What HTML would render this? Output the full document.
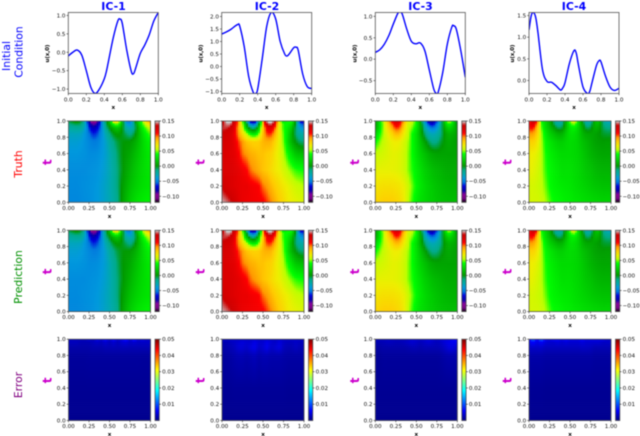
<!DOCTYPE html>
<html>
<head>
<meta charset="utf-8">
<title>Initial condition, truth, prediction and error panels</title>
<style>
html,body{margin:0;padding:0;background:#fff;}
svg{display:block;filter:blur(.4px);}
text{font-family:"DejaVu Sans","Liberation Sans",sans-serif;}
.row-title{font-size:10.8px;text-anchor:middle;}
.col-title{font-size:10.9px;font-weight:bold;fill:#0000ff;text-anchor:middle;}
</style>
</head>
<body>
<svg id="fig" xmlns="http://www.w3.org/2000/svg" width="640" height="436" viewBox="0 0 640 436">
<rect x="0" y="0" width="640" height="436" fill="#fff"/>
<text class="col-title" x="113.5" y="10">IC-1</text>
<text class="col-title" x="267" y="10">IC-2</text>
<text class="col-title" x="420.5" y="10">IC-3</text>
<text class="col-title" x="574" y="10">IC-4</text>
<text class="row-title" fill="#0000ff" transform="translate(10,56) rotate(-90)">Initial</text>
<text class="row-title" fill="#0000ff" transform="translate(22.5,52) rotate(-90)">Condition</text>
<text class="row-title" fill="#ff0000" transform="translate(22,164) rotate(-90)">Truth</text>
<text class="row-title" fill="#009000" transform="translate(22,277) rotate(-90)">Prediction</text>
<text class="row-title" fill="#800080" transform="translate(22,385) rotate(-90)">Error</text>
</svg>
<script>
// ---------- Chart data ----------
const curveX1 = [0,.05,.1,.15,.2,.25,.3,.35,.4,.425,.45,.5,.55,.575,.6,.65,.7,.725,.75,.8,.85,.9,.95,1];
const curveU1 = [-.1,0,.06,-.08,-.5,-.95,-1.12,-.98,-.72,-.5,-.2,.4,.85,.9,.78,.05,-.52,-.58,-.42,-.03,.2,.48,.85,1.08];
const curveX2 = [0,.05,.1,.15,.18,.2,.25,.3,.35,.375,.4,.45,.5,.55,.6,.65,.7,.725,.75,.8,.825,.85,.9,.95,1];
const curveU2 = [1.3,1.38,1.48,1.62,1.68,1.62,.8,-.4,-1.03,-1.08,-.9,.3,1.6,2.16,1.9,1,.5,.42,.5,.75,.77,.65,-.3,-.8,-.88];
const curveX3 = [0,.05,.1,.15,.2,.25,.275,.3,.35,.4,.45,.5,.55,.6,.65,.68,.7,.75,.8,.85,.87,.9,.95,1];
const curveU3 = [.16,.22,.35,.55,.82,1.07,1.1,1.05,.7,.42,.36,.38,.2,-.25,-.7,-.8,-.76,-.3,.35,.75,.78,.7,.2,-.42];
const curveX4 = [0,.025,.05,.075,.1,.15,.2,.25,.3,.35,.375,.4,.45,.5,.525,.55,.6,.65,.675,.7,.75,.78,.8,.85,.9,.95,1];
const curveU4 = [1.17,1.5,1.57,1.45,1.1,.25,-.02,-.04,-.12,-.22,-.17,-.05,.4,.69,.63,.35,-.15,-.3,-.25,-.05,.35,.46,.43,.1,-.15,-.23,-.18];
const curveYLim1 = [-1.12,1.08];
const curveYLim2 = [-1.08,2.16];
const curveYLim3 = [-.8,1.09];
const curveYLim4 = [-.3,1.57];
const curveYTicks1 = ["-1.0","-0.5","0.0","0.5","1.0"];
const curveYTicks2 = ["-1.0","-0.5","0.0","0.5","1.0","1.5","2.0"];
const curveYTicks3 = ["-0.5","0.0","0.5","1.0"];
const curveYTicks4 = ["0.0","0.5","1.0","1.5"];
const curveXTicks = ["0.0","0.2","0.4","0.6","0.8","1.0"];
const heatXTicks = ["0.00","0.25","0.50","0.75","1.00"];
const heatYTicks = ["0.0","0.2","0.4","0.6","0.8","1.0"];
const fieldBarTicks = ["-0.10","-0.05","0.00","0.05","0.10","0.15"];
const errorBarTicks = ["0.01","0.02","0.03","0.04","0.05"];
const fieldRange = [-.12,.15];
const errorRange = [0,.05];

// t coordinates of the rows in the field matrices, columns run over x = 0..1
const fieldT = [1,.97,.92,.85,.75,.6,.4,.2,0];
const errorT = [1,.97,.9,.8,.4,0];

const truthIC1 = [
[-.005,.002,.005,-.002,-.03,-.08,-.105,-.09,-.055,-.01,.02,.07,.075,.02,-.04,-.05,-.01,.025,.05,.08,.095],
[-.012,-.008,-.005,-.01,-.03,-.07,-.09,-.08,-.05,-.012,.012,.045,.05,.015,-.03,-.042,-.015,.02,.045,.065,.08],
[-.022,-.02,-.018,-.02,-.035,-.06,-.075,-.068,-.048,-.018,0,.014,.02,.005,-.02,-.03,-.015,.012,.035,.05,.06],
[-.03,-.03,-.03,-.032,-.04,-.052,-.062,-.058,-.045,-.028,-.012,0,.004,0,-.008,-.014,-.005,.012,.028,.04,.048],
[-.036,-.036,-.036,-.038,-.042,-.046,-.05,-.049,-.042,-.034,-.022,-.012,-.004,0,.002,.003,.008,.016,.025,.033,.038],
[-.04,-.04,-.04,-.041,-.042,-.044,-.044,-.043,-.04,-.035,-.027,-.018,-.008,0,.004,.008,.014,.02,.026,.031,.034],
[-.044,-.044,-.044,-.044,-.044,-.043,-.042,-.041,-.038,-.034,-.028,-.02,-.01,-.001,.006,.012,.018,.023,.027,.03,.032],
[-.045,-.045,-.045,-.044,-.043,-.042,-.041,-.039,-.036,-.032,-.027,-.02,-.01,.002,.01,.017,.022,.026,.029,.031,.032],
[-.046,-.046,-.046,-.045,-.044,-.043,-.041,-.039,-.036,-.032,-.028,-.022,-.012,.003,.014,.022,.028,.032,.034,.036,.036]];
const truthIC2 = [
[.13,.15,.155,.13,.095,.05,-.02,-.075,-.08,-.02,.09,.15,.16,.125,.065,.035,.042,.04,-.005,-.065,-.075],
[.135,.145,.145,.125,.095,.055,0,-.05,-.055,0,.085,.135,.145,.115,.07,.045,.04,.03,-.005,-.05,-.06],
[.14,.14,.135,.12,.09,.06,.02,-.01,-.012,.025,.08,.115,.12,.1,.065,.045,.035,.02,-.01,-.035,-.045],
[.135,.132,.128,.115,.095,.075,.055,.035,.03,.05,.085,.105,.105,.088,.068,.048,.032,.012,-.01,-.022,-.025],
[.13,.128,.125,.118,.105,.095,.085,.082,.08,.082,.088,.09,.088,.078,.066,.05,.03,.012,0,-.008,-.01],
[.125,.125,.122,.12,.112,.10,.095,.09,.088,.085,.085,.082,.08,.072,.065,.055,.042,.03,.02,.017,.015],
[.125,.125,.125,.122,.12,.115,.11,.10,.095,.09,.085,.082,.077,.072,.068,.062,.056,.05,.045,.043,.042],
[.135,.13,.125,.122,.12,.118,.118,.115,.113,.11,.10,.095,.088,.082,.077,.072,.068,.064,.06,.058,.055],
[.148,.145,.14,.132,.122,.118,.116,.115,.114,.113,.112,.105,.098,.09,.083,.078,.072,.069,.067,.065,.064]];
const truthIC3 = [
[.01,.03,.06,.085,.11,.128,.118,.09,.068,.06,.04,.01,-.04,-.075,-.085,-.06,-.025,.03,.06,.035,-.015],
[.005,.03,.055,.08,.1,.118,.11,.085,.062,.055,.038,.012,-.028,-.06,-.07,-.05,-.02,.02,.04,.025,0],
[.01,.03,.055,.075,.09,.105,.1,.078,.06,.05,.035,.012,-.018,-.042,-.05,-.04,-.015,.012,.025,.018,.006],
[.025,.04,.055,.068,.078,.088,.085,.07,.058,.042,.03,.012,-.008,-.024,-.03,-.025,-.012,.004,.012,.01,.005],
[.04,.05,.058,.064,.068,.07,.068,.062,.054,.042,.03,.018,.006,-.006,-.014,-.012,-.004,.004,.008,.006,.004],
[.058,.06,.062,.064,.066,.066,.064,.06,.052,.042,.032,.024,.018,.012,.008,.006,.006,.006,.006,.006,.006],
[.066,.067,.067,.067,.067,.066,.064,.06,.052,.044,.036,.03,.024,.02,.016,.014,.012,.01,.009,.009,.009],
[.072,.074,.075,.075,.075,.074,.072,.068,.06,.05,.04,.033,.028,.024,.021,.018,.016,.014,.013,.012,.012],
[.08,.08,.082,.082,.082,.08,.077,.07,.058,.045,.036,.03,.027,.024,.022,.02,.018,.017,.016,.016,.016]];
const truthIC4 = [
[.10,.135,.105,.045,.028,.014,-.008,-.025,-.018,.012,.05,.068,.035,.002,-.025,-.022,.012,.02,-.012,-.03,-.035],
[.112,.122,.095,.048,.028,.014,-.005,-.018,-.014,.012,.04,.052,.03,.006,-.016,-.014,.012,.014,-.008,-.02,-.024],
[.108,.108,.085,.05,.03,.018,.006,-.006,-.004,.015,.032,.036,.026,.01,-.006,-.004,.01,.008,-.006,-.012,-.012],
[.095,.093,.08,.055,.036,.025,.018,.012,.012,.022,.03,.03,.024,.014,.008,.007,.006,.002,-.002,-.004,-.004],
[.08,.08,.072,.056,.04,.033,.028,.024,.023,.026,.028,.027,.024,.018,.014,.01,.006,.004,.003,.004,.004],
[.07,.069,.065,.056,.044,.037,.033,.03,.028,.028,.028,.027,.025,.021,.017,.013,.01,.008,.007,.007,.007],
[.068,.066,.062,.056,.046,.04,.036,.033,.03,.03,.03,.028,.026,.023,.02,.018,.015,.013,.012,.012,.012],
[.062,.062,.06,.057,.05,.042,.038,.036,.034,.033,.032,.03,.028,.026,.024,.022,.02,.019,.018,.018,.018],
[.063,.062,.062,.06,.055,.048,.042,.04,.038,.036,.035,.033,.032,.03,.029,.028,.027,.026,.025,.025,.025]];
const predictionIC1 = truthIC1;
const predictionIC2 = truthIC2;
const predictionIC3 = truthIC3;
const predictionIC4 = truthIC4;
const errorIC1 = [
[.003,.003,.003,.003,.003,.004,.003,.005,.004,.006,.004,.006,.004,.005,.007,.004,.007,.004,.005,.004,.004],
[.003,.003,.003,.0025,.0025,.0025,.003,.0035,.003,.004,.003,.004,.003,.004,.0045,.0035,.004,.0035,.0035,.0035,.0035],
[.002,.002,.002,.002,.002,.002,.0022,.0022,.0022,.0025,.0025,.0026,.0025,.0026,.0026,.0025,.0025,.0025,.0025,.0025,.0025],
[.0014,.0014,.0014,.0014,.0014,.0015,.0015,.0015,.0015,.0015,.0015,.0015,.0015,.0015,.0015,.0015,.0015,.0015,.0014,.0014,.0014],
[.001,.001,.001,.001,.001,.001,.001,.001,.001,.001,.001,.001,.001,.001,.001,.001,.001,.001,.001,.001,.001],
[.0008,.0008,.0008,.0008,.0008,.0008,.0008,.0008,.0008,.0008,.0008,.0008,.0008,.0008,.0008,.0008,.0008,.0008,.0008,.0008,.0008]];
const errorIC2 = [
[.0035,.0035,.0035,.0035,.0035,.0035,.0035,.0035,.004,.0035,.0035,.004,.0035,.0035,.004,.0035,.0035,.0035,.0035,.0035,.0035],
[.0025,.0025,.003,.0035,.004,.0045,.004,.004,.005,.004,.004,.005,.004,.0035,.0045,.0035,.003,.003,.0035,.003,.003],
[.002,.0022,.0025,.003,.004,.004,.0035,.0045,.005,.0035,.004,.005,.0035,.004,.0045,.003,.0025,.0025,.003,.0025,.0025],
[.0014,.0016,.0018,.0022,.0025,.0025,.0022,.0025,.0028,.0022,.0025,.0025,.0022,.0022,.0022,.002,.0018,.0018,.0018,.0018,.0018],
[.0011,.0011,.0011,.0012,.0012,.0012,.0012,.0012,.0012,.0012,.0012,.0012,.0012,.0012,.0012,.0012,.0011,.0011,.0011,.0011,.0011],
[.0008,.0008,.0008,.0008,.0008,.0008,.0008,.0008,.0008,.0008,.0008,.0008,.0008,.0008,.0008,.0008,.0008,.0008,.0008,.0008,.0008]];
const errorIC3 = [
[.003,.003,.003,.0035,.003,.003,.003,.003,.0035,.004,.004,.0035,.004,.0045,.004,.0035,.004,.0045,.005,.006,.0065],
[.0025,.0025,.0027,.003,.003,.0027,.0027,.003,.0035,.004,.0035,.003,.0035,.004,.0035,.003,.0035,.0045,.005,.0055,.0055],
[.0017,.0017,.002,.002,.002,.002,.002,.002,.0022,.0025,.0025,.0022,.0025,.0025,.0025,.0025,.0027,.0035,.0045,.0045,.0035],
[.0012,.0012,.0014,.0014,.0014,.0014,.0014,.0014,.0014,.0014,.0014,.0014,.0014,.0014,.0014,.0014,.0016,.002,.0022,.0022,.002],
[.001,.001,.001,.001,.001,.001,.001,.001,.001,.001,.001,.001,.001,.001,.001,.001,.001,.001,.001,.001,.001],
[.0008,.0008,.0008,.0008,.0008,.0008,.0008,.0008,.0008,.0008,.0008,.0008,.0008,.0008,.0008,.0008,.0008,.0008,.0008,.0008,.0008]];
const errorIC4 = [
[.006,.011,.006,.011,.006,.005,.006,.006,.005,.006,.005,.005,.005,.006,.005,.005,.005,.005,.005,.004,.004],
[.005,.0065,.005,.006,.0045,.004,.004,.0045,.004,.0045,.004,.004,.004,.0045,.004,.004,.004,.004,.0035,.0035,.0035],
[.0035,.0035,.0035,.0035,.003,.003,.003,.003,.003,.003,.003,.003,.003,.0032,.0032,.003,.0025,.0025,.0025,.0025,.0025],
[.002,.002,.002,.002,.0018,.0018,.0018,.0018,.0018,.0018,.0018,.0018,.0018,.0018,.0018,.0018,.0016,.0016,.0016,.0016,.0016],
[.0011,.0011,.0011,.0011,.001,.001,.001,.001,.001,.001,.001,.001,.001,.001,.001,.001,.001,.001,.001,.001,.001],
[.0008,.0008,.0008,.0008,.0008,.0008,.0008,.0008,.0008,.0008,.0008,.0008,.0008,.0008,.0008,.0008,.0008,.0008,.0008,.0008,.0008]];

// ---------- Colormaps ----------
const spectralStops = [[0,0,0],[.4667,0,.5333],[.5333,0,.6],[0,0,.6667],[0,0,.8667],[0,.4667,.8667],[0,.6,.8667],[0,.6667,.6667],[0,.6667,.5333],[0,.6,0],[0,.7333,0],[0,.8667,0],[0,1,0],[.7333,1,0],[.9333,.9333,0],[1,.8,0],[1,.6,0],[1,0,0],[.8667,0,0],[.8,0,0],[.8,.8,.8]];
function spectral(t){
  t=Math.max(0,Math.min(1,t))*20;
  const i=Math.min(19,Math.floor(t)),f=t-i,a=spectralStops[i],b=spectralStops[i+1];
  return 'rgb('+[0,1,2].map(k=>Math.round(255*(a[k]+(b[k]-a[k])*f))).join(',')+')';
}
function jet(t){
  t=Math.max(0,Math.min(1,t));
  const c=v=>Math.round(255*Math.max(0,Math.min(1,v)));
  return 'rgb('+c(Math.min(4*t-1.5,-4*t+4.5))+','+c(Math.min(4*t-.5,-4*t+3.5))+','+c(Math.min(4*t+.5,-4*t+2.5))+')';
}

// ---------- Drawing helpers ----------
const NS='http://www.w3.org/2000/svg';
const fig=document.getElementById('fig');
function make(tag,parent,props){
  const e=document.createElementNS(NS,tag);
  for(const k in props)e.setAttribute(k,props[k]);
  parent.appendChild(e);
  return e;
}
function tickLabel(parent,x,y,str,anchor){
  const t=make('text',parent,{x:x,y:y,'font-size':5.6,fill:'#111','text-anchor':anchor});
  t.textContent=str.replace('-','\u2212');
  
  
  return t;
}
function tickMark(parent,x1,y1,x2,y2){
  const l=make('line',parent,{x1:x1,y1:y1,x2:x2,y2:y2,stroke:'#333','stroke-width':.6});
  
  
}
function frame(parent,x,y,w,h){
  const r=make('rect',parent,{x:x,y:y,width:w,height:h,fill:'none',stroke:'#555','stroke-width':.8});
  
  
}
function axisLabel(parent,x,y,str,rot,size,color){
  const t=make('text',parent,{'font-size':size,'font-weight':'bold',fill:color,'text-anchor':'middle',
    transform:'translate('+x+','+y+') rotate('+rot+')'});
  t.textContent=str;
  
  
}
function catmull(pts){
  let d='M'+pts[0][0].toFixed(2)+' '+pts[0][1].toFixed(2);
  for(let i=0;i<pts.length-1;i++){
    const p0=pts[Math.max(0,i-1)],p1=pts[i],p2=pts[i+1],p3=pts[Math.min(pts.length-1,i+2)];
    const c1x=p1[0]+(p2[0]-p0[0])/6,c1y=p1[1]+(p2[1]-p0[1])/6;
    const c2x=p2[0]-(p3[0]-p1[0])/6,c2y=p2[1]-(p3[1]-p1[1])/6;
    d+='C'+c1x.toFixed(2)+' '+c1y.toFixed(2)+' '+c2x.toFixed(2)+' '+c2y.toFixed(2)+' '+p2[0].toFixed(2)+' '+p2[1].toFixed(2);
  }
  return d;
}

// ---------- Row 1: initial condition curves ----------
let clipCount=0;
function drawCurve(x0,xs,us,yLim,yTicks,labelOffset){
  const y0=12.5,w=90,h=81;
  const xScale=v=>x0+v*w;
  const yScale=v=>y0+h-(v-yLim[0])/(yLim[1]-yLim[0])*h;
  const g=make('g',fig,{});
  
  
  const id='clip'+(clipCount++);
  const cp=make('clipPath',g,{id:id});
  make('rect',cp,{x:x0,y:y0,width:w,height:h});
  const path=make('path',g,{d:catmull(xs.map((x,i)=>[xScale(x),yScale(us[i])])),fill:'none',stroke:'#0000ff','stroke-width':1.4,'clip-path':'url(#'+id+')'});
  
  
  frame(g,x0,y0,w,h);
  curveXTicks.forEach(s=>{
    const p=xScale(parseFloat(s));
    tickMark(g,p,y0+h,p,y0+h+1.8);
    tickLabel(g,p,y0+h+8,s,'middle');
  });
  yTicks.forEach(s=>{
    const p=yScale(parseFloat(s));
    tickMark(g,x0,p,x0-1.8,p);
    tickLabel(g,x0-2.8,p+2,s,'end');
  });
  axisLabel(g,x0+w/2,y0+h+15.5,'x',0,5.6,'#000');
  axisLabel(g,x0-labelOffset+2,y0+h/2+.5,'u(x,0)',-90,5.4,'#000');
}

// ---------- Rows 2-4: heatmaps ----------
// Catmull-Rom along x so colour bands are not streaked at the column knots; linear along t.
function rowAt(row,x){
  const cols=row.length-1;
  const fx=Math.min(cols-1e-6,x*cols),i=Math.floor(fx),a=fx-i;
  const p0=row[Math.max(0,i-1)],p1=row[i],p2=row[i+1],p3=row[Math.min(cols,i+2)];
  return p1+.5*a*(p2-p0+a*(2*p0-5*p1+4*p2-p3+a*(3*(p1-p2)+p3-p0)));
}
function sample(matrix,ts,x,t){
  let r=0;
  while(r<ts.length-2&&t<ts[r+1])r++;
  const at=(ts[r]-t)/(ts[r]-ts[r+1]);
  const top=rowAt(matrix[r],x),bot=rowAt(matrix[r+1],x);
  return top+(bot-top)*at;
}
function drawHeat(x0,y0,matrix,ts,range,cmap,barTicks,tOffset){
  const w=82,h=81.3,n=41;
  const xScale=v=>x0+v*w;
  const yScale=v=>y0+h-v*h;
  const colorOf=v=>cmap((v-range[0])/(range[1]-range[0]));
  const g=make('g',fig,{});
  
  
  for(let j=0;j<n;j++){
    for(let i=0;i<n;i++){
      const xv=(i+.5)/n,tv=(j+.5)/n;
      const c=make('rect',g,{x:xScale(i/n),y:yScale((j+1)/n),width:w/n+.3,height:h/n+.3,fill:colorOf(sample(matrix,ts,xv,tv))});
      
      
    }
  }
  frame(g,x0,y0,w,h);
  heatXTicks.forEach(s=>{
    const p=xScale(parseFloat(s));
    tickMark(g,p,y0+h,p,y0+h+1.8);
    tickLabel(g,p,y0+h+7.5,s,'middle');
  });
  heatYTicks.forEach(s=>{
    const p=yScale(parseFloat(s));
    tickMark(g,x0,p,x0-1.8,p);
    tickLabel(g,x0-2.8,p+2,s,'end');
  });
  axisLabel(g,x0+w/2,y0+h+15.5,'x',0,5.6,'#000');
  axisLabel(g,x0-tOffset+3.5,y0+h/2+.5,'t',-90,12,'#cc00cc');
  // colour bar
  const bx=x0+86.5,bw=4.3;
  const barY=v=>y0+h-(v-range[0])/(range[1]-range[0])*h;
  const bar=make('g',g,{});
  
  
  const steps=81;
  for(let k=0;k<steps;k++){
    const s=make('rect',bar,{x:bx,y:y0+h-(k+1)/steps*h,width:bw,height:h/steps+.3,fill:cmap((k+.5)/steps)});
    
    
  }
  frame(bar,bx,y0,bw,h);
  barTicks.forEach(s=>{
    const p=barY(parseFloat(s));
    tickMark(bar,bx+bw,p,bx+bw+1.8,p);
    tickLabel(bar,bx+bw+2.8,p+2,s,'start');
  });
}

drawCurve(68.3,curveX1,curveU1,curveYLim1,curveYTicks1,21.5);
drawCurve(221.7,curveX2,curveU2,curveYLim2,curveYTicks2,21);
drawCurve(375.3,curveX3,curveU3,curveYLim3,curveYTicks3,21);
drawCurve(529,curveX4,curveU4,curveYLim4,curveYTicks4,17);

drawHeat(68.5,121,truthIC1,fieldT,fieldRange,spectral,fieldBarTicks,20.5);
drawHeat(222,121,truthIC2,fieldT,fieldRange,spectral,fieldBarTicks,21);
drawHeat(375.3,121,truthIC3,fieldT,fieldRange,spectral,fieldBarTicks,20);
drawHeat(529,121,truthIC4,fieldT,fieldRange,spectral,fieldBarTicks,21);

drawHeat(68.5,230.3,predictionIC1,fieldT,fieldRange,spectral,fieldBarTicks,20.5);
drawHeat(222,230.3,predictionIC2,fieldT,fieldRange,spectral,fieldBarTicks,21);
drawHeat(375.3,230.3,predictionIC3,fieldT,fieldRange,spectral,fieldBarTicks,20);
drawHeat(529,230.3,predictionIC4,fieldT,fieldRange,spectral,fieldBarTicks,21);

drawHeat(68.5,339.2,errorIC1,errorT,errorRange,jet,errorBarTicks,20.5);
drawHeat(222,339.2,errorIC2,errorT,errorRange,jet,errorBarTicks,21);
drawHeat(375.3,339.2,errorIC3,errorT,errorRange,jet,errorBarTicks,20);
drawHeat(529,339.2,errorIC4,errorT,errorRange,jet,errorBarTicks,21);
</script>
</body>
</html>
